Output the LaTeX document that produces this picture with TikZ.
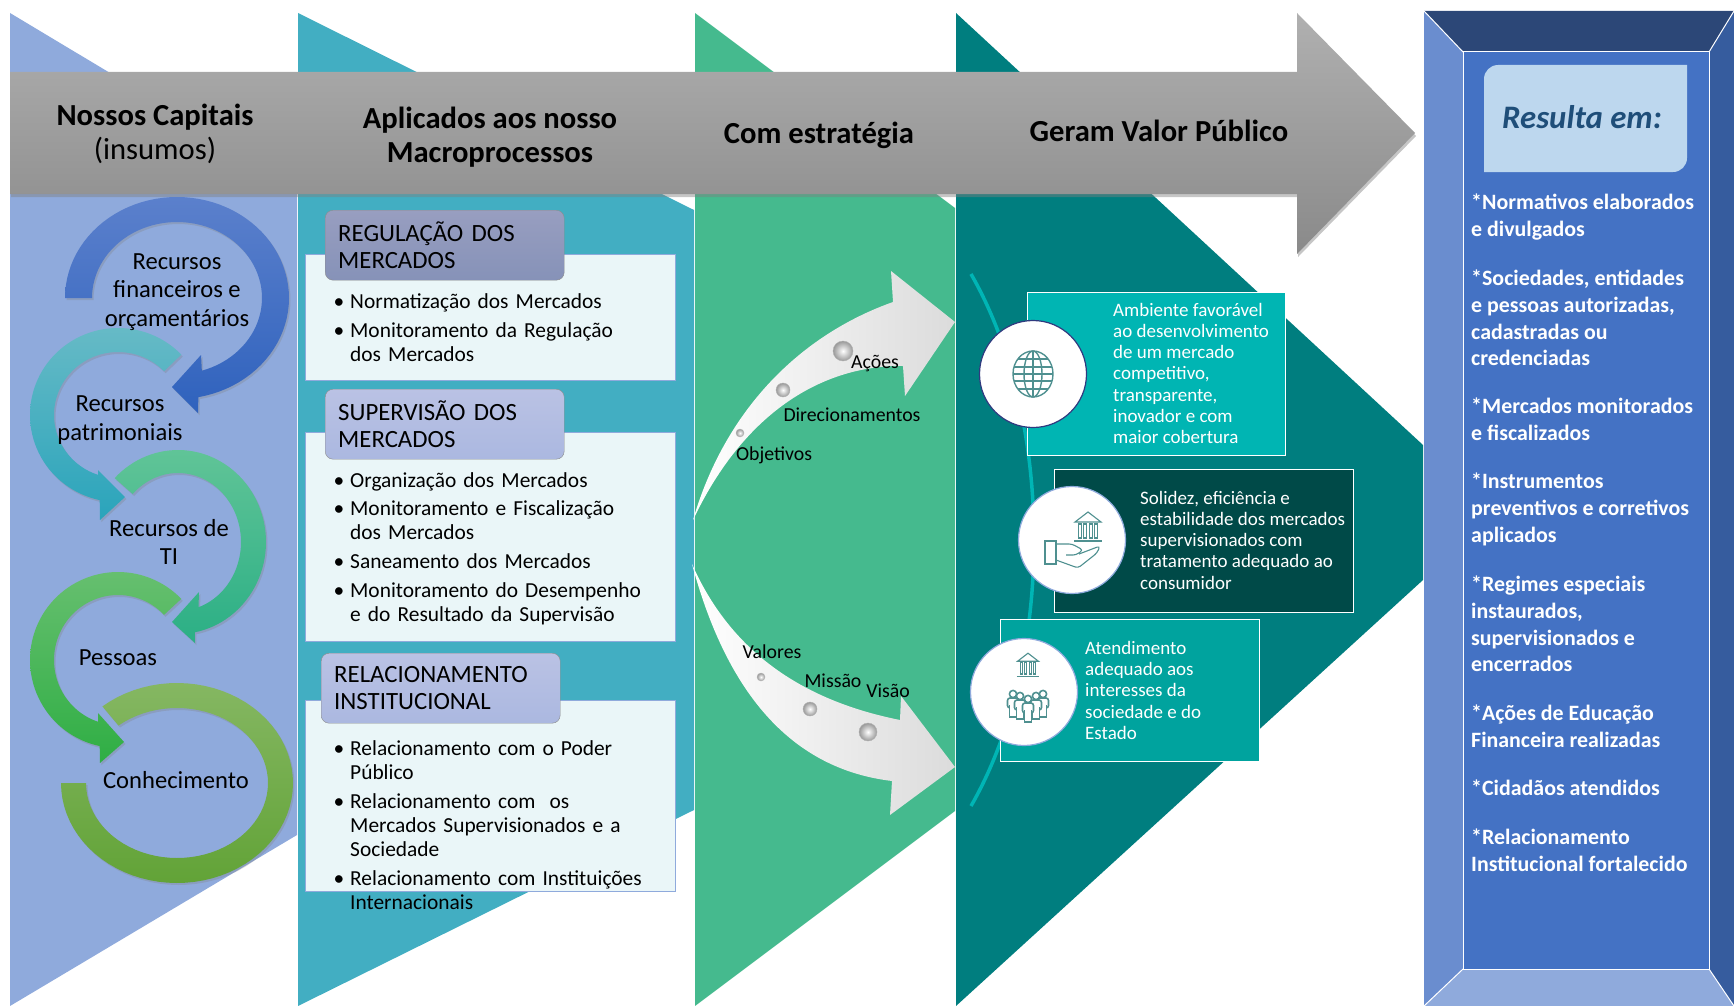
\documentclass[tikz,border=0pt]{standalone}
\usepackage{fontspec}
\setmainfont{Carlito}
\usetikzlibrary{shadows}
\definecolor{capblue}{HTML}{8FAADC}
\definecolor{proteal}{HTML}{42AEC2}
\definecolor{strgreen}{HTML}{45BA8E}
\definecolor{valteal}{HTML}{007E7F}
\definecolor{panelblue}{HTML}{4472C4}
\definecolor{paneltop}{HTML}{2C4777}
\definecolor{panelleft}{HTML}{6A8DCF}
\definecolor{panelright}{HTML}{365C9E}
\definecolor{resultbox}{HTML}{BDD7EE}
\definecolor{resultink}{HTML}{1F4E79}
\definecolor{icongray}{HTML}{4F9090}
\definecolor{ambfill}{HTML}{00B5B3}
\definecolor{solfill}{HTML}{004A48}
\definecolor{atefill}{HTML}{00A39E}
\definecolor{curvecyan}{HTML}{00B5B5}
\definecolor{reghigh}{HTML}{989EC0}
\definecolor{reglow}{HTML}{8692B8}
\definecolor{suphigh}{HTML}{BAC2E4}
\definecolor{suplow}{HTML}{ABB8E0}
\definecolor{ringnavy}{HTML}{2F3A7F}
\tikzset{
  headtext/.style={font=\fontsize{30.6}{34.3}\selectfont,align=center},
  ringtext/.style={font=\fontsize{24.6}{28.2}\selectfont,align=center},
  headbox/.style={draw=black!45,rounded corners=8pt,minimum width=239pt,minimum height=70pt,text width=213pt,
    inner xsep=13pt,anchor=north west,align=left,font=\fontsize{24.8}{28}\selectfont},
  cardbox/.style={draw=capblue,fill=proteal!11,anchor=north west,minimum width=370pt},
  itemtext/.style={anchor=north west,inner sep=0pt,text width=320pt,align=left,font=\fontsize{21.4}{24.4}\selectfont,
    execute at begin node={\leavevmode\llap{\textbullet\hspace{6pt}}}},
  strtext/.style={font=\fontsize{19.8}{23}\selectfont},
  sphere/.style={circle,inner color=white,outer color=black!40,draw=black!30,line width=.4pt,inner sep=0pt},
  valuebox/.style={draw=white,line width=1.3pt,anchor=north west},
  valuetext/.style={anchor=north west,inner sep=0pt,align=left,text=white,font=\fontsize{19}{21.2}\selectfont},
  valuecircle/.style={circle,fill=white,line width=1.2pt,minimum size=107pt,inner sep=0pt},
  resulttext/.style={anchor=north west,inner sep=0pt,align=left,text=white,font=\bfseries\fontsize{21.9}{26.6}\selectfont},
  iconline/.style={draw=icongray,line width=1.1pt},
  bankpic/.pic={
    \draw[iconline] (-13,-6) -- (0,-16) -- (13,-6) -- cycle;
    \foreach \colx in {-8,-3,3,8}
      \draw[iconline] (\colx-1.5,-4) rectangle (\colx+1.5,10);
    \draw[iconline] (-14,13) -- (14,13);
  },
  personpic/.pic={
    \draw[fill=white,draw=icongray,line width=1.6pt] (0,-9) circle (3.6);
    \draw[fill=white,draw=icongray,line width=1.6pt,rounded corners=2.5pt] (-5.5,-5) rectangle (5.5,5);
    \draw[fill=white,draw=icongray,line width=1.6pt] (-3.5,2) -- (-3.5,14) -- (3.5,14) -- (3.5,2);
  }
}
\begin{document}
\begin{tikzpicture}[x=1pt,y=-1pt]
\useasboundingbox (0,0) rectangle (1734,1006);
% columns
\fill[capblue] (10,13) -- (297,185) -- (297,835) -- (10,1006) -- cycle;
\fill[proteal] (298,13) -- (694,210) -- (694,810) -- (298,1006) -- cycle;
\fill[strgreen] (695,13) -- (955,208) -- (955,811) -- (695,1006) -- cycle;
\fill[valteal] (956,13) -- (1423,445) -- (1423,580) -- (956,1006) -- cycle;
% big arrow
\path[top color=black!31,bottom color=black!46,drop shadow={shadow xshift=1pt,shadow yshift=-3pt,opacity=.45}]
  (10,72) -- (1297,72) -- (1297,13) -- (1415,133) -- (1297,254) -- (1297,194) -- (10,194) -- cycle;
\node[headtext] (capitais) at (155,134) {\textbf{Nossos Capitais}\\(insumos)};
\node[headtext] (aplicados) at (490,137) {\textbf{Aplicados aos nosso}\\\textbf{Macroprocessos}};
\node[headtext,font=\bfseries\fontsize{30.6}{34.3}\selectfont] (estrategia) at (819,135) {Com estratégia};
\node[headtext,font=\bfseries\fontsize{30.6}{34.3}\selectfont] (geram) at (1159,131) {Geram Valor Público};
% capital rings
\foreach \cx/\cy/\rox/\roy/\rix/\riy/\ta/\tb/\tc/\hox/\hoy/\tipx/\tipy/\hix/\hiy/\ctop/\cbot in {
  177/298/112/101/85/76/180/439/433/198/413/172/387/201/355/5B80CC/2F62BD,
  118/415/88/87/64/63/-44/-258/-252/100/520/125/497/98/470/66BAC6/2AA4BB,
  178/542/88/92/63/69/224/439/431/195/643/172/622/199/592/60C497/2BAF85,
  118/660/88/88/64/65/-44/-258/-252/100/763/124/742/98/713/66BF6F/2FAE44,
  177/783/116/100/91/75/230/540/540/61/783/73/783/86/783/85B762/62A337}
{
  \definecolor{ringtop}{HTML}{\ctop}
  \definecolor{ringbot}{HTML}{\cbot}
  \path[top color=ringtop,bottom color=ringbot,drop shadow={shadow xshift=1.5pt,shadow yshift=-2pt,opacity=.3}]
    plot[domain=\ta:\tb,samples=70] ({\cx+\rox*cos(\x)},{\cy+\roy*sin(\x)})
    -- (\hox,\hoy) -- (\tipx,\tipy) -- (\hix,\hiy)
    -- plot[domain=\tc:\ta,samples=70] ({\cx+\rix*cos(\x)},{\cy+\riy*sin(\x)}) -- cycle;
}
\node[ringtext] (financeiros) at (177,292) {Recursos\\financeiros e\\orçamentários};
\node[ringtext] (patrimoniais) at (120,420) {Recursos\\patrimoniais};
\node[ringtext] (recti) at (169,542) {Recursos de\\TI};
\node[ringtext] (pessoas) at (118,658) {Pessoas};
\node[ringtext] (conhecimento) at (176,780) {Conhecimento};
% macroprocess cards
\node[cardbox,minimum height=126pt] (regcard) at (305,254) {};
\node[cardbox,minimum height=209pt] (supcard) at (305,432) {};
\node[cardbox,minimum height=191pt] (relcard) at (305,700) {};
\node[headbox,top color=reghigh,bottom color=reglow] (reghead) at (325,210) {REGULAÇÃO DOS\\[-1pt]MERCADOS};
\node[headbox,top color=suphigh,bottom color=suplow] (suphead) at (325,389) {SUPERVISÃO DOS\\[-1pt]MERCADOS};
\node[headbox,top color=suphigh,bottom color=suplow] (relhead) at (321,653) {RELACIONAMENTO\\[-1pt]INSTITUCIONAL};
\node[itemtext] (reg1) at (350,293) {Normatização dos Mercados};
\node[itemtext] (reg2) at (350,322) {Monitoramento da Regulação\\dos Mercados};
\node[itemtext] (sup1) at (350,472) {Organização dos Mercados};
\node[itemtext] (sup2) at (350,500) {Monitoramento e Fiscalização\\dos Mercados};
\node[itemtext] (sup3) at (350,553) {Saneamento dos Mercados};
\node[itemtext] (sup4) at (350,582) {Monitoramento do Desempenho\\e do Resultado da Supervisão};
\node[itemtext] (rel1) at (350,740) {Relacionamento com o Poder\\Público};
\node[itemtext] (rel2) at (350,793) {Relacionamento com ~os\\Mercados Supervisionados e a\\Sociedade};
\node[itemtext] (rel3) at (350,870) {Relacionamento com Instituições\\Internacionais};
% strategy arrows
\path[left color=white,middle color=white,right color=black!14]
  (693,520) .. controls (725,410) and (800,335) .. (893,302) -- (891,271) -- (955,322) -- (905,396) -- (903,366)
  .. controls (825,365) and (745,410) .. (693,520) -- cycle;
\path[left color=white,middle color=white,right color=black!14]
  (692,564) .. controls (730,650) and (800,700) .. (900,720) -- (901,696) -- (955,767) -- (890,815) -- (892,781)
  .. controls (800,770) and (730,705) .. (692,564) -- cycle;
\foreach \sx/\sy/\sd in {740/433/8,783/390/14,843/351/20,761/677/8,810/709/14,868/732/18}
  \node[sphere,minimum size=\sd pt] at (\sx,\sy) {};
\node[strtext] (objetivos) at (774,455) {Objetivos};
\node[strtext] (direcionamentos) at (852,415) {Direcionamentos};
\node[strtext] (acoes) at (875,364) {Ações};
\node[strtext] (valores) at (772,652) {Valores};
\node[strtext] (missao) at (833,681) {Missão};
\node[strtext] (visao) at (888,691) {Visão};
% public value
\draw[curvecyan,line width=3.5pt] (971,274) .. controls (1055,420) and (1055,660) .. (971,806);
\node[valuebox,fill=ambfill,minimum width=258pt,minimum height=163pt] (ambbox) at (1027,292) {};
\node[valuebox,fill=solfill,minimum width=299pt,minimum height=143pt] (solbox) at (1054,469) {};
\node[valuebox,fill=atefill,minimum width=259pt,minimum height=142pt] (atebox) at (1000,619) {};
\node[valuecircle,draw=ringnavy] (ambcirc) at (1033,374) {};
\node[valuecircle,draw=capblue] (solcirc) at (1072,540) {};
\node[valuecircle,draw=capblue] (atecirc) at (1024,692) {};
\node[valuetext] (ambtext) at (1113,303) {Ambiente favorável\\ao desenvolvimento\\de um mercado\\competitivo,\\transparente,\\inovador e com\\maior cobertura};
\node[valuetext] (soltext) at (1140,491) {Solidez, eficiência e\\estabilidade dos mercados\\supervisionados com\\tratamento adequado ao\\consumidor};
\node[valuetext] (atetext) at (1085,641) {Atendimento\\adequado aos\\interesses da\\sociedade e do\\Estado};
% globe icon
\draw[iconline,line width=1.4pt] (1033,374) ellipse (20 and 23);
\draw[iconline,line width=1.4pt] (1033,374) ellipse (9 and 23);
\draw[iconline,line width=1.4pt] (1033,351) -- (1033,397);
\foreach \gy/\gw in {-15/15,-7/19,0/20,7/19,15/15}
  \draw[iconline,line width=1.4pt] (1033-\gw,374+\gy) -- (1033+\gw,374+\gy);
% hand and bank icon
\pic at (1088,528) {bankpic};
\draw[iconline] (1045,541) rectangle (1056,564);
\draw[iconline,rounded corners=3pt] (1056,544) -- (1072,544) -- (1083,550) -- (1076,555) -- (1066,555);
\draw[iconline,rounded corners=3pt] (1079,554) -- (1100,546) -- (1097,553) -- (1078,568) -- (1056,560);
% people icon
\pic[scale=.8] at (1028,666) {bankpic};
\foreach \px/\py in {1013/703,1043/703,1020/705,1036/705,1028/708}
  \pic at (\px,\py) {personpic};
% result panel
\fill[paneltop] (1424,11) -- (1734,11) -- (1709,52) -- (1463,52) -- cycle;
\fill[panelleft] (1424,11) -- (1463,52) -- (1463,969) -- (1424,1006) -- cycle;
\fill[panelright] (1734,11) -- (1709,52) -- (1709,969) -- (1734,1006) -- cycle;
\fill[capblue] (1424,1006) -- (1463,969) -- (1709,969) -- (1734,1006) -- cycle;
\draw[fill=panelblue,draw=white,line width=1pt] (1463,52) rectangle (1709,969);
\draw[white,line width=1pt] (1424,11) -- (1463,52) (1734,11) -- (1709,52) (1424,1006) -- (1463,969) (1734,1006) -- (1709,969);
\fill[resultbox] (1484,172) [rounded corners=14pt] -- (1484,65) [sharp corners] -- (1687,65) [rounded corners=14pt] -- (1687,172) [sharp corners] -- cycle;
\node[text=resultink,font=\bfseries\itshape\fontsize{32.8}{38}\selectfont] (resulta) at (1582,117) {Resulta em:};
\node[resulttext] (res1) at (1471,194) {*Normativos elaborados\\e divulgados};
\node[resulttext] (res2) at (1471,270) {*Sociedades, entidades\\e pessoas autorizadas,\\cadastradas ou\\credenciadas};
\node[resulttext] (res3) at (1471,398) {*Mercados monitorados\\e fiscalizados};
\node[resulttext] (res4) at (1471,473) {*Instrumentos\\preventivos e corretivos\\aplicados};
\node[resulttext] (res5) at (1471,576) {*Regimes especiais\\instaurados,\\supervisionados e\\encerrados};
\node[resulttext] (res6) at (1471,705) {*Ações de Educação\\Financeira realizadas};
\node[resulttext] (res7) at (1471,780) {*Cidadãos atendidos};
\node[resulttext] (res8) at (1471,829) {*Relacionamento\\Institucional fortalecido};
\end{tikzpicture}
\end{document}
